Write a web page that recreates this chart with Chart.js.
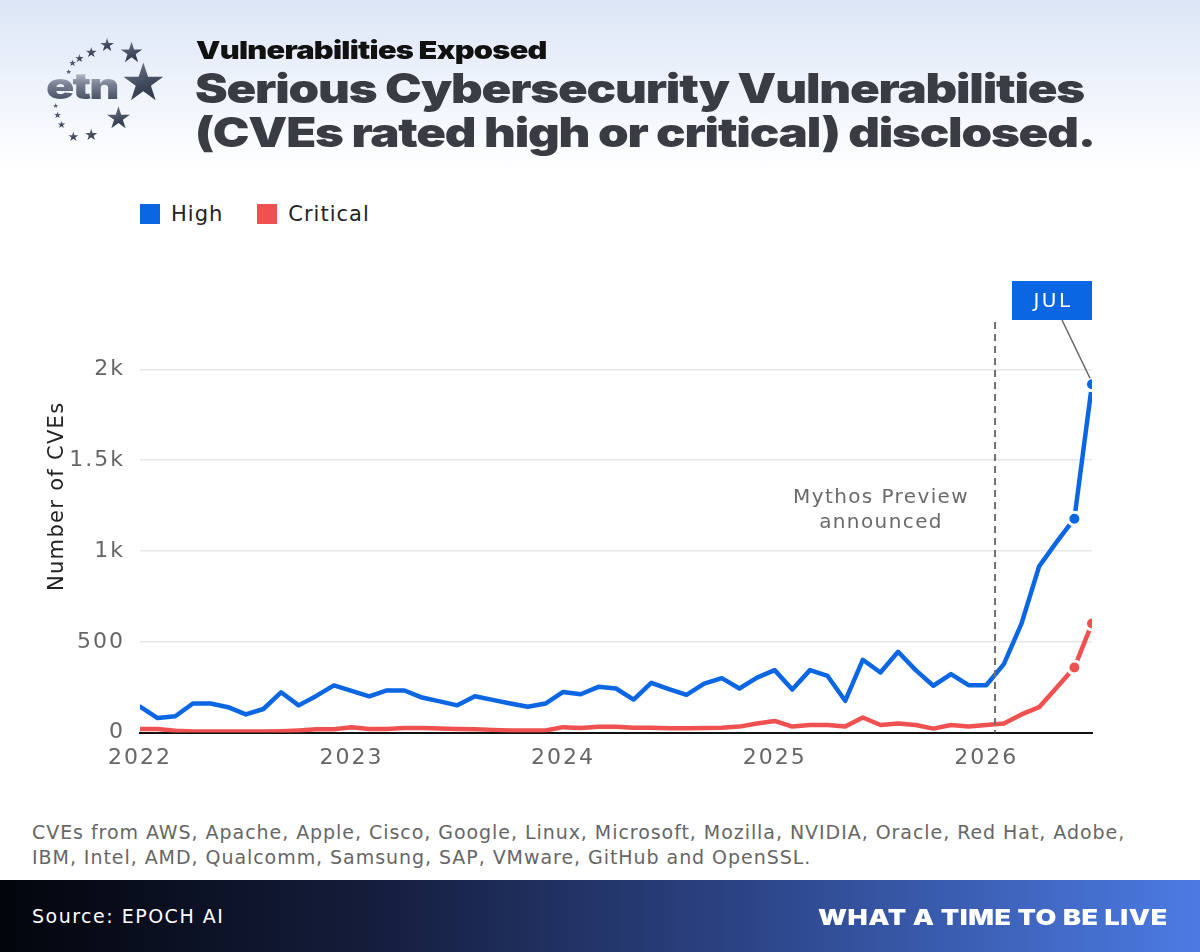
<!DOCTYPE html>
<html>
<head>
<meta charset="utf-8">
<script src="https://cdn.jsdelivr.net/npm/chart.js@4.4.1/dist/chart.umd.min.js"></script>
<style>
  html, body { margin: 0; padding: 0; }
  body {
    width: 1200px; height: 952px; position: relative; overflow: hidden;
    background: linear-gradient(180deg, #dce6f6 0px, #edf2fb 80px, #ffffff 175px, #ffffff 100%);
    font-family: "DejaVu Sans", sans-serif;
  }
  .logo { position: absolute; left: 0; top: 0; width: 190px; height: 160px; }
  .logo .star {
    position: absolute; line-height: 1;
    background: linear-gradient(160deg, #7b8396 0%, #3a4256 60%, #2a3144 100%);
    -webkit-background-clip: text; background-clip: text; color: transparent;
  }
  .logo .etn {
    position: absolute; left: 46px; top: 68px; font-family: Inter, sans-serif; font-weight: 900;
    font-size: 36px; line-height: 36px; letter-spacing: -1.5px;
    transform: scaleX(1.3); transform-origin: left top;
    background: linear-gradient(180deg, #d4d8e0 0%, #7a8194 45%, #3b4357 100%);
    -webkit-background-clip: text; background-clip: text; color: transparent;
  }
  .kicker {
    position: absolute; left: 196px; top: 35px; font-family: Inter, sans-serif; font-weight: 900;
    font-size: 25px; color: #111; letter-spacing: -0.6px;
    transform: scaleX(1.23); transform-origin: left top; white-space: nowrap;
  }
  .title {
    position: absolute; left: 195px; top: 66px; font-family: Inter, sans-serif; font-weight: 900;
    font-size: 41px; line-height: 44px; color: #3a3c44; letter-spacing: -1px; white-space: nowrap;
    transform: scaleX(1.198); transform-origin: left top;
  }
  .legend { position: absolute; left: 140px; top: 202px; display: flex; gap: 34px; font-size: 21px; color: #222; letter-spacing: 1px; }
  .legend span.item { display: flex; align-items: center; gap: 11px; }
  .legend i { display: inline-block; width: 20px; height: 20px; }
  .chart-box { position: absolute; left: 30px; top: 250px; width: 1100px; height: 530px; }
  .note {
    position: absolute; left: 32px; top: 820px; font-size: 19px; line-height: 25px; color: #666;
    letter-spacing: 0.95px; white-space: nowrap;
  }
  .footer {
    position: absolute; left: 0; top: 880px; width: 1200px; height: 72px;
    background: linear-gradient(90deg, #03050b 0%, #141c3a 30%, #2c4486 62%, #4c7be3 100%);
  }
  .footer .src { position: absolute; left: 32px; top: 25px; font-size: 19px; color: #fff; letter-spacing: 1.5px; }
  .footer .tag {
    position: absolute; right: 32px; top: 24px; font-family: Inter, sans-serif; font-weight: 900;
    font-size: 22px; color: #fff; letter-spacing: 0.5px;
    transform: scaleX(1.22); transform-origin: right top; white-space: nowrap;
  }
</style>
</head>
<body>
<div class="logo" id="logo"><div class="etn">etn</div></div>
<div class="kicker">Vulnerabilities Exposed</div>
<div class="title">Serious Cybersecurity Vulnerabilities<br>(CVEs rated high or critical) disclosed.</div>
<div class="legend" id="legend"></div>
<div class="chart-box"><canvas id="cveChart"></canvas></div>
<div class="note">CVEs from AWS, Apache, Apple, Cisco, Google, Linux, Microsoft, Mozilla, NVIDIA, Oracle, Red Hat, Adobe,<br>IBM, Intel, AMD, Qualcomm, Samsung, SAP, VMware, GitHub and OpenSSL.</div>
<div class="footer"><div class="src">Source: EPOCH AI</div><div class="tag">WHAT A TIME TO BE LIVE</div></div>

<script>
// monthly categories, Jan 2022 .. Jul 2026
const months = [
  'Jan 2022','Feb 2022','Mar 2022','Apr 2022','May 2022','Jun 2022','Jul 2022','Aug 2022','Sep 2022','Oct 2022','Nov 2022','Dec 2022',
  'Jan 2023','Feb 2023','Mar 2023','Apr 2023','May 2023','Jun 2023','Jul 2023','Aug 2023','Sep 2023','Oct 2023','Nov 2023','Dec 2023',
  'Jan 2024','Feb 2024','Mar 2024','Apr 2024','May 2024','Jun 2024','Jul 2024','Aug 2024','Sep 2024','Oct 2024','Nov 2024','Dec 2024',
  'Jan 2025','Feb 2025','Mar 2025','Apr 2025','May 2025','Jun 2025','Jul 2025','Aug 2025','Sep 2025','Oct 2025','Nov 2025','Dec 2025',
  'Jan 2026','Feb 2026','Mar 2026','Apr 2026','May 2026','Jun 2026','Jul 2026'
];

const highCves = [
  143, 80, 90, 160, 160, 140, 100, 130, 222, 150, 202, 260,
  230, 200, 232, 232, 193, 172, 150, 200, 180, 160, 142, 160,
  224, 211, 252, 243, 182, 274, 240, 208, 270, 300, 243, 303,
  344, 237, 344, 312, 175, 401, 331, 445, 344, 258, 322, 261,
  261, 377, 600, 915, 1050, 1178, 1918
];

const criticalCves = [
  20, 20, 10, 6, 6, 6, 6, 6, 8, 12, 18, 18,
  30, 20, 20, 25, 25, 22, 20, 18, 15, 12, 12, 12,
  30, 25, 32, 32, 27, 27, 24, 24, 25, 27, 33, 50,
  64, 33, 42, 42, 33, 83, 42, 50, 42, 22, 42, 33,
  42, 50, 100, 140, 248, 358, 601
];

const seriesNames = ['High', 'Critical'];
const seriesColors = ['#0a66e2', '#ef5151'];

const xTickValues = [0, 12, 24, 36, 48];
const xTickLabels = ['2022', '2023', '2024', '2025', '2026'];
const yTickValues = [0, 500, 1000, 1500, 2000];
const yTickLabels = ['0', '500', '1k', '1.5k', '2k'];
const yAxisTitle = 'Number of CVEs';

// month position of the "Mythos Preview announced" marker
const eventPosition = 48.5;
const eventText = ['Mythos Preview', 'announced'];

// logo stars (decoration): x, y, size
const logoStars = [
  [69,72,7],[73,63,9],[80,58,11],[92,52,14],[108,45,18],[133,53,28],
  [146,82,52],[120,118,30],[92,135,16],[74,136,13],[62,125,10],[58,115,9],[56,106,7]
];
const logo = document.getElementById('logo');
logoStars.forEach(([x, y, s]) => {
  const el = document.createElement('span');
  el.className = 'star';
  el.textContent = '\u2605';
  el.style.left = (x - s / 2) + 'px';
  el.style.top = (y - s / 2) + 'px';
  el.style.fontSize = s + 'px';
  logo.appendChild(el);
});

// legend
document.getElementById('legend').innerHTML = seriesNames
  .map((n, i) => `<span class="item"><i style="background:${seriesColors[i]}"></i>${n}</span>`).join('');

const toPoints = arr => arr.map((v, i) => ({ x: i, y: v }));
const lastIdx = months.length - 1;
const markerRadius = ctx => (ctx.dataIndex >= lastIdx - 1 ? 6.5 : 0);

const annotations = {
  id: 'annotations',
  beforeUpdate(chart) { chart.ctx.letterSpacing = '2px'; },
  beforeDraw(chart) { chart.ctx.letterSpacing = '2px'; },
  afterDraw(chart) {
    const { ctx, chartArea } = chart;
    ctx.save();
    ctx.letterSpacing = '1.3px';
    ctx.translate(28, (chartArea.top + chartArea.bottom) / 2 - 32);
    ctx.rotate(-Math.PI / 2);
    ctx.fillStyle = '#222';
    ctx.font = '21px "DejaVu Sans"';
    ctx.textAlign = 'center';
    ctx.textBaseline = 'middle';
    ctx.fillText(yAxisTitle, 0, 0);
    ctx.restore();
  },
  afterDatasetsDraw(chart) {
    const { ctx, chartArea, scales } = chart;
    const ex = scales.x.getPixelForValue(eventPosition);
    ctx.save();
    ctx.strokeStyle = '#707070';
    ctx.lineWidth = 2;
    ctx.setLineDash([7, 5]);
    ctx.beginPath();
    ctx.moveTo(ex, chartArea.top - 2);
    ctx.lineTo(ex, chartArea.bottom);
    ctx.stroke();
    ctx.setLineDash([]);

    ctx.letterSpacing = '1.4px';
    ctx.fillStyle = '#6a6a6a';
    ctx.font = '20px "DejaVu Sans"';
    ctx.textAlign = 'center';
    ctx.textBaseline = 'middle';
    eventText.forEach((t, i) => ctx.fillText(t, ex - 114, chartArea.top + 174 + i * 25));

    // callout on the last High point
    const pt = chart.getDatasetMeta(0).data[lastIdx];
    const bw = 80, bh = 39;
    const bx = pt.x - bw, by = chartArea.top - 43;
    ctx.strokeStyle = '#666';
    ctx.lineWidth = 1.5;
    ctx.beginPath();
    ctx.moveTo(bx + 50, by + bh);
    ctx.lineTo(pt.x - 2, pt.y - 6);
    ctx.stroke();
    ctx.fillStyle = seriesColors[0];
    ctx.fillRect(bx, by, bw, bh);
    ctx.fillStyle = '#fff';
    ctx.letterSpacing = '2.5px';
    ctx.font = '20px "DejaVu Sans"';
    ctx.fillText(months[lastIdx].split(' ')[0].toUpperCase(), bx + bw / 2 + 1, by + bh / 2 + 1);
    ctx.restore();
  }
};

new Chart(document.getElementById('cveChart'), {
  type: 'line',
  data: {
    datasets: [
      { label: seriesNames[0], data: toPoints(highCves), borderColor: seriesColors[0], backgroundColor: seriesColors[0] },
      { label: seriesNames[1], data: toPoints(criticalCves), borderColor: seriesColors[1], backgroundColor: seriesColors[1] }
    ].map(d => Object.assign(d, {
      borderWidth: 4.5, tension: 0, borderCapStyle: 'round', borderJoinStyle: 'round',
      pointRadius: markerRadius, pointBorderColor: '#fff', pointBorderWidth: 3, pointHoverRadius: 0
    }))
  },
  options: {
    responsive: true,
    maintainAspectRatio: false,
    animation: false,
    layout: { padding: { top: 74, right: 38, bottom: 5, left: 0 } },
    plugins: { legend: { display: false }, tooltip: { enabled: false } },
    scales: {
      x: {
        type: 'linear', min: 0, max: lastIdx,
        afterBuildTicks: s => { s.ticks = xTickValues.map(v => ({ value: v })); },
        ticks: {
          callback: v => xTickLabels[xTickValues.indexOf(v)],
          color: '#666', font: { family: 'DejaVu Sans', size: 22 }, padding: 4, maxRotation: 0
        },
        grid: { display: false },
        border: { display: true, color: '#111', width: 2 }
      },
      y: {
        min: 0, max: 2250,
        afterBuildTicks: s => { s.ticks = yTickValues.map(v => ({ value: v })); },
        afterFit: s => { s.width = 110; },
        ticks: {
          callback: v => yTickLabels[yTickValues.indexOf(v)],
          color: '#666', font: { family: 'DejaVu Sans', size: 22 }, padding: 15
        },
        grid: { color: '#e6e6e6', lineWidth: 1.5, drawTicks: false },
        border: { display: false }
      }
    }
  },
  plugins: [annotations]
});
</script>
</body>
</html>
